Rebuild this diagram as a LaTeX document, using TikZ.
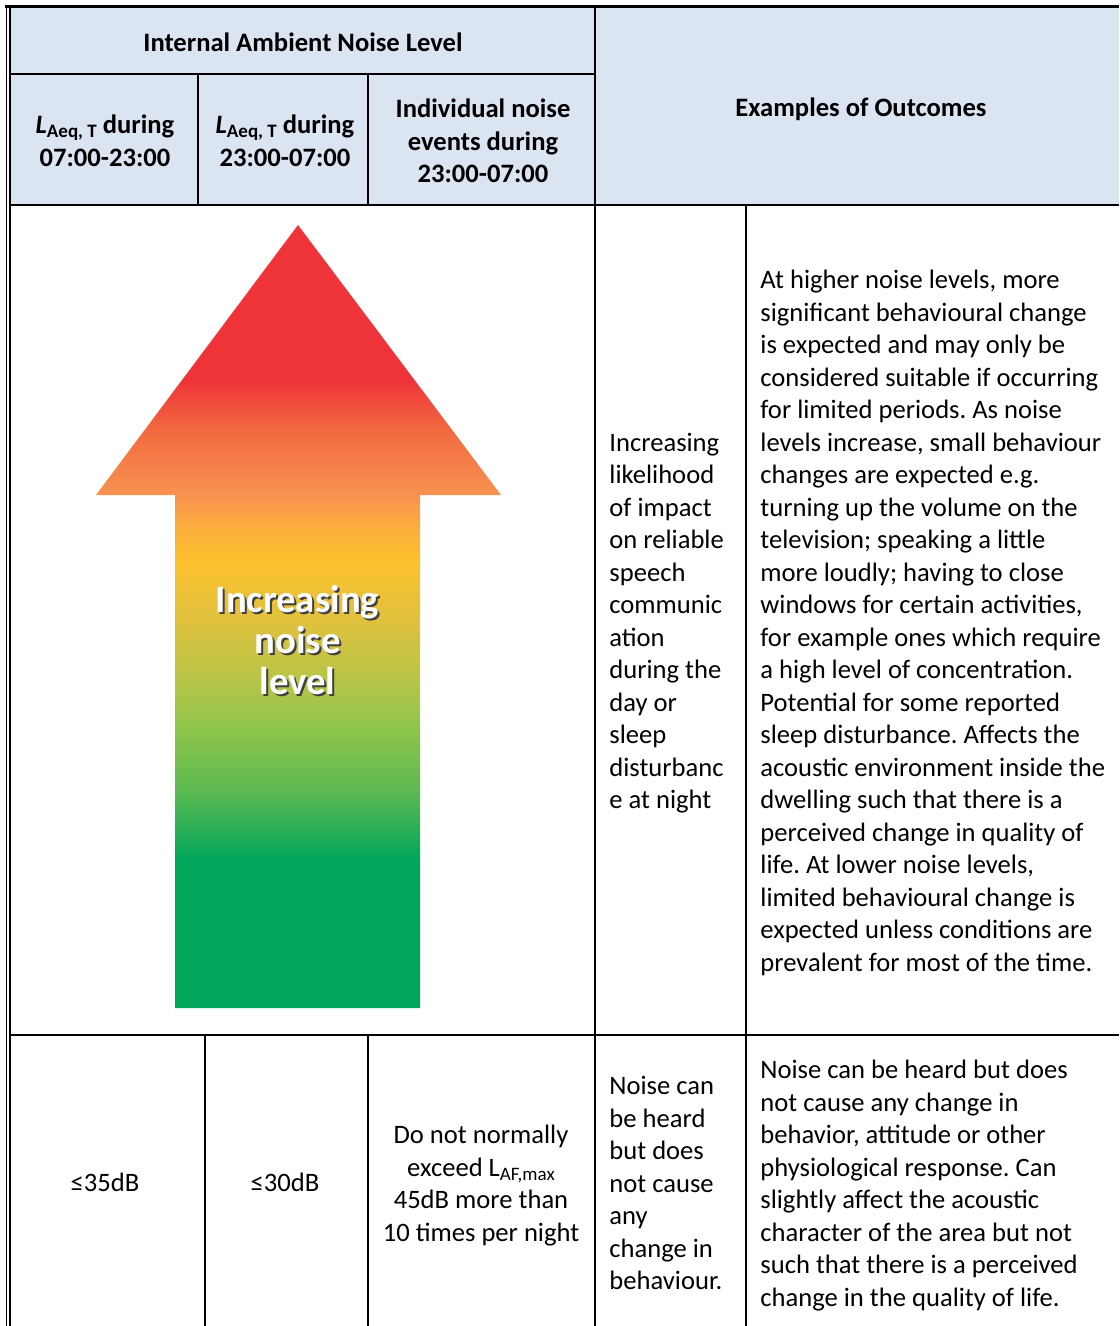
\documentclass[tikz,border=0pt]{standalone}
\usepackage{fontspec}
\setmainfont{Carlito}
\usetikzlibrary{positioning}
\frenchspacing

\definecolor{hdrblue}{HTML}{DBE5F1}
\definecolor{lvlred}{HTML}{EE3339}
\definecolor{lvlredor}{HTML}{F26A40}
\definecolor{lvlorange}{HTML}{F79250}
\definecolor{lvlamber}{HTML}{FBB03C}
\definecolor{lvlyellow}{HTML}{FDC12E}
\definecolor{lvlolive}{HTML}{E0C13E}
\definecolor{lvlkhaki}{HTML}{B8C548}
\definecolor{lvllime}{HTML}{8DC54B}
\definecolor{lvlleaf}{HTML}{5DB951}
\definecolor{lvlgreen}{HTML}{00A65A}

\pgfdeclareverticalshading{noiseramp}{100bp}{color(0bp)=(lvlgreen); color(34.5bp)=(lvlgreen); color(38.9bp)=(lvlleaf); color(42.8bp)=(lvllime); color(46bp)=(lvlkhaki); color(49.8bp)=(lvlolive); color(53.6bp)=(lvlyellow); color(55.5bp)=(lvlamber); color(57.8bp)=(lvlorange); color(61.9bp)=(lvlredor); color(65.1bp)=(lvlred); color(100bp)=(lvlred)}

\newcommand{\laeq}{\textit{L}\raisebox{-0.3ex}{\fontsize{9.5pt}{9.5pt}\selectfont Aeq, T}}
\newcommand{\lafmax}{L\raisebox{-0.3ex}{\fontsize{9.5pt}{9.5pt}\selectfont AF,max}}

\tikzset{
  cell/.style={font=\fontsize{13.3pt}{16.25pt}\selectfont, inner sep=0pt},
  hdr/.style={cell, font=\fontsize{13.3pt}{16.25pt}\selectfont\bfseries, align=center, anchor=north},
  mid/.style={cell, align=center, anchor=north},
  para/.style={cell, align=left, anchor=north west},
  lvltext/.style={inner sep=0pt, font=\fontsize{19.4pt}{20.5pt}\selectfont\bfseries, align=center, anchor=north},
  rule/.style={line width=1pt},
}

\begin{document}
\begin{tikzpicture}[x=0.5pt, y=-0.5pt]
  \useasboundingbox (0,0) rectangle (1119,1326);
  \fill[hdrblue] (10,8) rectangle (1119,205);

  \shade[shading=noiseramp] (298,225) -- (501,495) -- (420,495) -- (420,1008) -- (175,1008) -- (175,495) -- (96,495) -- cycle;
  \node[lvltext, text=black!75] (lvlshadow) at (299.5,585.5) {\strut Increasing\\noise\\level};
  \node[lvltext, text=white] (lvl) at (297.5,583.5) {\strut Increasing\\noise\\level};

  \node[hdr] (ambient) at (303,28.25) {\strut Internal Ambient Noise Level};
  \node[hdr] (dayhdr) at (105,110.75) {\strut\laeq{} during\\07:00-23:00};
  \node[hdr] (nighthdr) at (285,110.75) {\strut\laeq{} during\\23:00-07:00};
  \node[hdr] (eventhdr) at (483,94.75) {\strut Individual noise\\events during\\23:00-07:00};
  \node[hdr] (outcomehdr) at (861,93.75) {\strut Examples of Outcomes};

  \node[para] (likelihood) at (609,428.25) {\strut Increasing\\likelihood\\of impact\\on reliable\\speech\\communic\\ation\\during the\\day or\\sleep\\disturbanc\\e at night};
  \node[para] (outcomes) at (760,265.75) {\strut At higher noise levels, more\\significant behavioural change\\is expected and may only be\\considered suitable if occurring\\for limited periods. As noise\\levels increase, small behaviour\\changes are expected e.g.\\turning up the volume on the\\television; speaking a little\\more loudly; having to close\\windows for certain activities,\\for example ones which require\\a high level of concentration.\\Potential for some reported\\sleep disturbance. Affects the\\acoustic environment inside the\\dwelling such that there is a\\perceived change in quality of\\life. At lower noise levels,\\limited behavioural change is\\expected unless conditions are\\prevalent for most of the time.};

  \node[cell, anchor=base] (dayval) at (105,1191.5) {≤35dB};
  \node[cell, anchor=base] (nightval) at (285,1191.5) {≤30dB};
  \node[mid] (eventval) at (481,1120.75) {\strut Do not normally\\exceed \lafmax\\45dB more than\\10 times per night};
  \node[para] (heardshort) at (609,1071.75) {\strut Noise can\\be heard\\but does\\not cause\\any\\change in\\behaviour.};
  \node[para] (heardlong) at (760,1055.75) {\strut Noise can be heard but does\\not cause any change in\\behavior, attitude or other\\physiological response. Can\\slightly affect the acoustic\\character of the area but not\\such that there is a perceived\\change in the quality of life.};

  \draw[line width=1.75pt] (5,6.5) -- (1119,6.5);
  \draw[line width=0.75pt] (6.5,5) -- (6.5,1326);
  \draw[line width=0.75pt] (10,8) -- (10,1326);
  \draw[rule] (10,74) -- (595,74);
  \draw[rule] (10,205) -- (1119,205);
  \draw[rule] (10,1035) -- (1119,1035);
  \draw[rule] (595,8) -- (595,1326);
  \draw[rule] (198,74) -- (198,205);
  \draw[rule] (368,74) -- (368,205);
  \draw[rule] (746,205) -- (746,1326);
  \draw[rule] (205,1035) -- (205,1326);
  \draw[rule] (368,1035) -- (368,1326);
\end{tikzpicture}
\end{document}
